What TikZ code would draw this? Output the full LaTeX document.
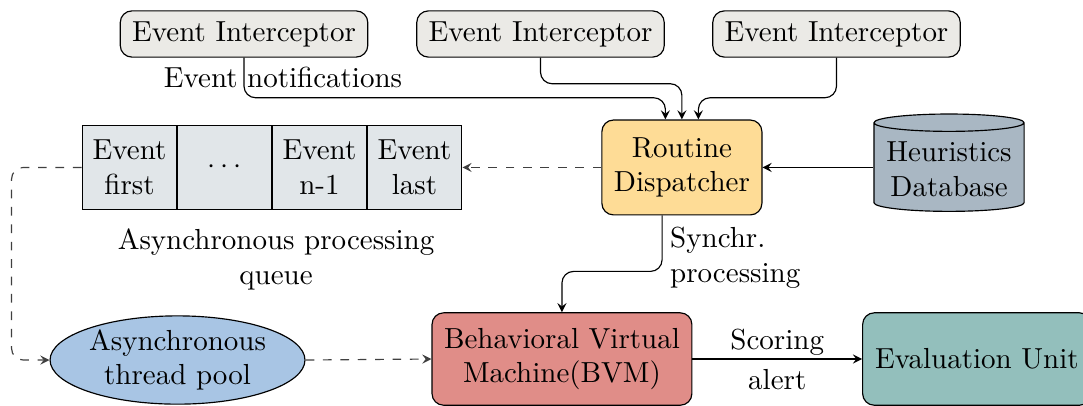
\documentclass[tikz,border=0pt]{standalone}
\usepackage{tikz}
\usepackage{xcolor}
\usetikzlibrary{shapes.geometric,positioning}

\definecolor{interfill}{HTML}{EBEAE6}
\definecolor{queuefill}{HTML}{E1E6E9}
\definecolor{routfill}{HTML}{FEDC96}
\definecolor{dbfill}{HTML}{A9B7C3}
\definecolor{poolfill}{HTML}{A8C5E4}
\definecolor{bvmfill}{HTML}{E08D88}
\definecolor{evalfill}{HTML}{93BFBC}

\begin{document}
\begin{tikzpicture}[scale=0.2, >=stealth]
        \tikzstyle{every node}+=[align=center]
        \tikzstyle{intercept}=[draw, rounded corners=4pt, fill=interfill, minimum width=3cm, minimum height=0.56cm]
        \tikzstyle{qcell}=[draw, fill=queuefill, minimum width=1.15cm, minimum height=1.01cm, inner sep=0pt]
        \tikzstyle{unit}=[draw, rounded corners=4pt, minimum height=1.12cm]
        \tikzstyle{async}=[dashed, black!75, ->]
        \useasboundingbox (0,0) rectangle (65.64,-24.55);
        % interceptors
        \node [intercept] (int1) at (14.79,-2.06) {Event Interceptor};
        \node [intercept] (int2) at (32.76,-2.06) {Event Interceptor};
        \node [intercept] (int3) at (50.70,-2.06) {Event Interceptor};
        \node (notif) at (17.15,-4.67) {Event notifications};
        % dispatcher and database
        \node [unit, fill=routfill, minimum width=1.94cm, minimum height=1.15cm] (rout) at (41.33,-10.15) {Routine\\Dispatcher};
        \node [cylinder, shape border rotate=90, aspect=0.12, inner ysep=1pt, draw, fill=dbfill, minimum width=1.82cm, minimum height=1.18cm] (db) at (57.52,-10.27) {Heuristics\\Database};
        % queue
        \node [qcell] (q1) at (7.85,-10.15) {Event\\first};
        \node [qcell] (q2) at (13.61,-10.15) {$\cdots$};
        \node [qcell] (q3) at (19.36,-10.15) {Event\\n-1};
        \node [qcell] (q4) at (25.12,-10.15) {Event\\last};
        \node (qlabel) at (16.73,-15.70) {Asynchronous processing\\queue};
        % processing
        \node [ellipse, draw, fill=poolfill, inner sep=0pt, minimum width=3.09cm, minimum height=1.07cm] (pool) at (10.76,-21.82) {Asynchronous\\thread pool};
        \node [unit, fill=bvmfill, minimum width=3.15cm] (bvm) at (34.06,-21.76) {Behavioral Virtual\\Machine(BVM)};
        \node [unit, fill=evalfill, minimum width=2.77cm] (eval) at (59.21,-21.76) {Evaluation Unit};
        \node [anchor=west, align=left] (synch) at (40.0,-15.64) {Synchr.\\processing};
        % connectors (shifts are scaled by 0.2 too)
        \coordinate (in1) at ([xshift=-1cm]rout.north);
        \coordinate (in3) at ([xshift=1cm]rout.north);
        \coordinate (out) at ([xshift=-1.2cm]rout.south);
        \draw [->, rounded corners] (int1.south) -- ++(0,-2.43) -| (in1);
        \draw [->, rounded corners] (int2.south) -- ++(0,-1.58) -| (rout.north);
        \draw [->, rounded corners] (int3.south) -- ++(0,-2.43) -| (in3);
        \draw [->] (db.west |- rout.east) -- (rout.east);
        \draw [async] (rout.west) -- (q4.east);
        \draw [async, rounded corners] (q1.west) -- ++(-4.24,0) |- (pool.west);
        \draw [async] (pool.east) -- (bvm.west);
        \draw [->, rounded corners] (out) -- ++(0,-3.39) -| (bvm.north);
        \draw [->] (bvm.east) -- node [above, inner sep=1pt] {Scoring} node [below] {alert} (eval.west);
\end{tikzpicture}
\end{document}
